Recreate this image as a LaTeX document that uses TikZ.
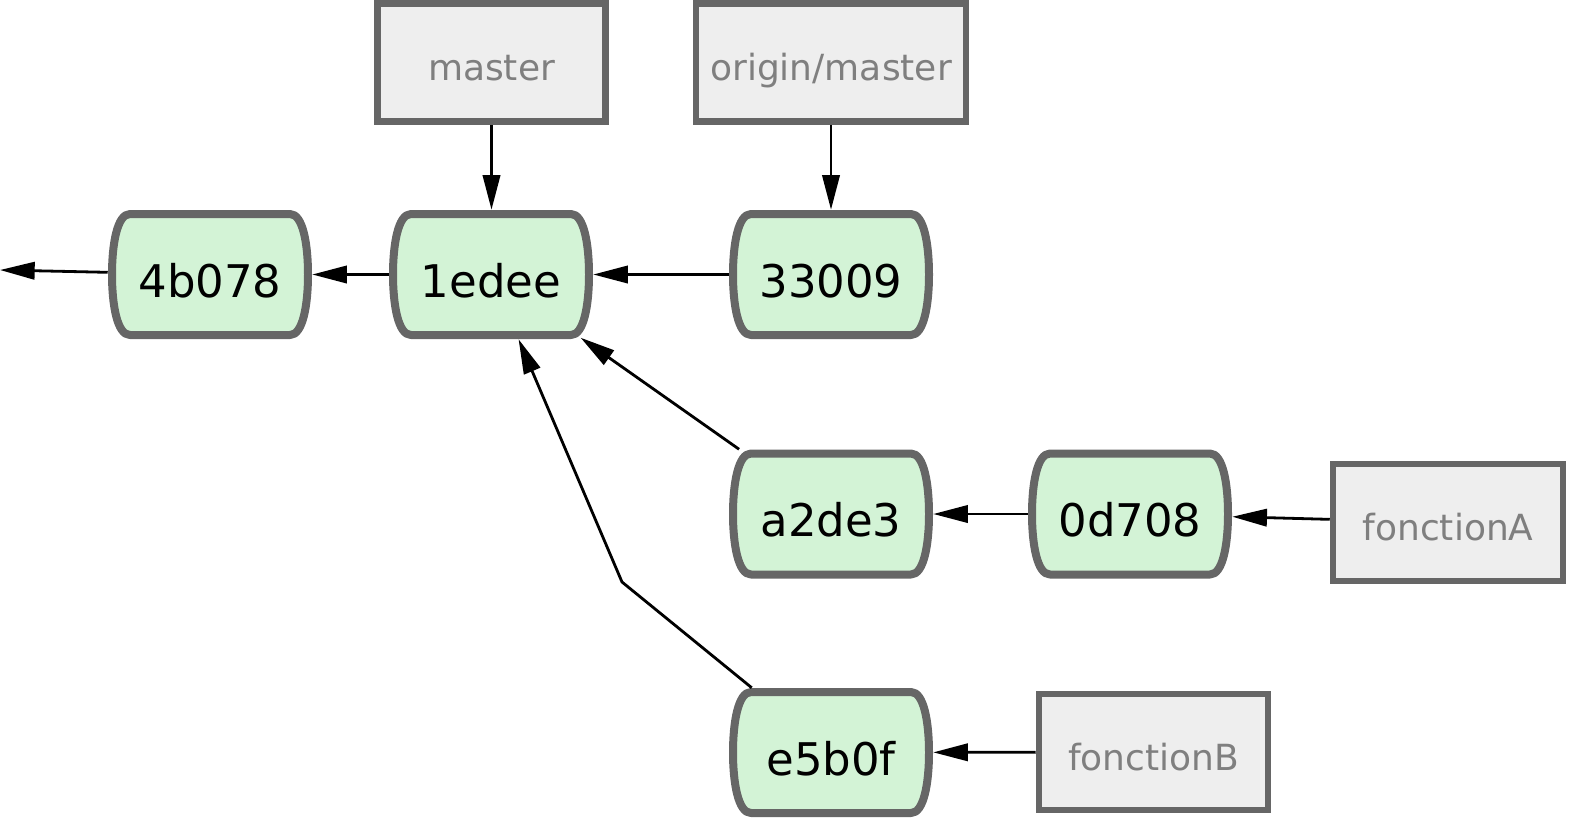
\documentclass[tikz,border=0pt]{standalone}
\usepackage{fontspec}
\setmainfont{DejaVu Sans}
\usetikzlibrary{arrows.meta,backgrounds}
\definecolor{frame}{HTML}{666666}
\definecolor{commitfill}{HTML}{D3F3D6}
\definecolor{boxfill}{HTML}{EEEEEE}
\definecolor{boxtext}{HTML}{7F7F7F}
\tikzset{
  commit/.style={inner sep=0pt, minimum width=153bp, minimum height=96.75bp,
    text height=33.75bp, text depth=0bp,
    font=\fontsize{33.75bp}{40bp}\selectfont, text=black},
  commitframe/.style={draw=frame, fill=commitfill, line width=6bp, line join=round},
  refbox/.style={draw=frame, fill=boxfill, line width=4.9bp, inner sep=0pt,
    text height=27bp, text depth=0bp,
    minimum height=88.5bp, font=\fontsize{27bp}{32bp}\selectfont, text=boxtext},
  link/.style={line width=2.1bp, -{Triangle[length=26bp,width=13bp]}}
}
\begin{document}
\begin{tikzpicture}[x=0.75bp,y=-0.75bp]
\useasboundingbox (0,0) rectangle (1575,822);
% commits
\node[commit] (c4b) at (210,274.5) {4b078};
\node[commit] (c1e) at (491,274.5) {1edee};
\node[commit] (c33) at (831,274.5) {33009};
\node[commit] (ca2) at (831,514) {a2de3};
\node[commit] (c0d) at (1130,514) {0d708};
\node[commit] (ce5) at (831,752.5) {e5b0f};
\begin{scope}[on background layer]
\foreach \n in {c4b,c1e,c33,ca2,c0d,ce5}{
  \draw[commitframe, shift={(\n.center)}]
    (-80,-60.5) -- (80,-60.5)
    .. controls (93,-60.5) and (98,-30) .. (98,0)
    .. controls (98,30) and (93,60.5) .. (80,60.5)
    -- (-80,60.5)
    .. controls (-93,60.5) and (-98,30) .. (-98,0)
    .. controls (-98,-30) and (-93,-60.5) .. (-80,-60.5) -- cycle;
}
\end{scope}
% refs
\node[refbox, minimum width=171bp] (master) at (491.5,62.5) {master};
\node[refbox, minimum width=202.5bp] (origin) at (831,62.5) {origin/master};
\node[refbox, minimum width=172.5bp, minimum height=87.75bp] (fa) at (1448,522.5) {fonctionA};
\node[refbox, minimum width=171.75bp, minimum height=87bp] (fb) at (1153.5,752) {fonctionB};
\coordinate (left) at (0,270);
\coordinate (bend) at (622,582);
% links
\draw[link] (c4b) -- (left);
\draw[link] (c1e) -- (c4b);
\draw[link] (c33) -- (c1e);
\draw[link] (master) -- (c1e.north -| master.south);
\draw[link] (origin) -- (c33.north -| origin.south);
\draw[link, shorten >=-2bp] (ca2) -- (c1e);
\draw[link] (c0d) -- (ca2);
\draw[link] (fa) -- (c0d);
\draw[link] (fb) -- (ce5);
\draw[link, line join=miter] (ce5) -- (bend) -- (c1e);
\end{tikzpicture}
\end{document}
